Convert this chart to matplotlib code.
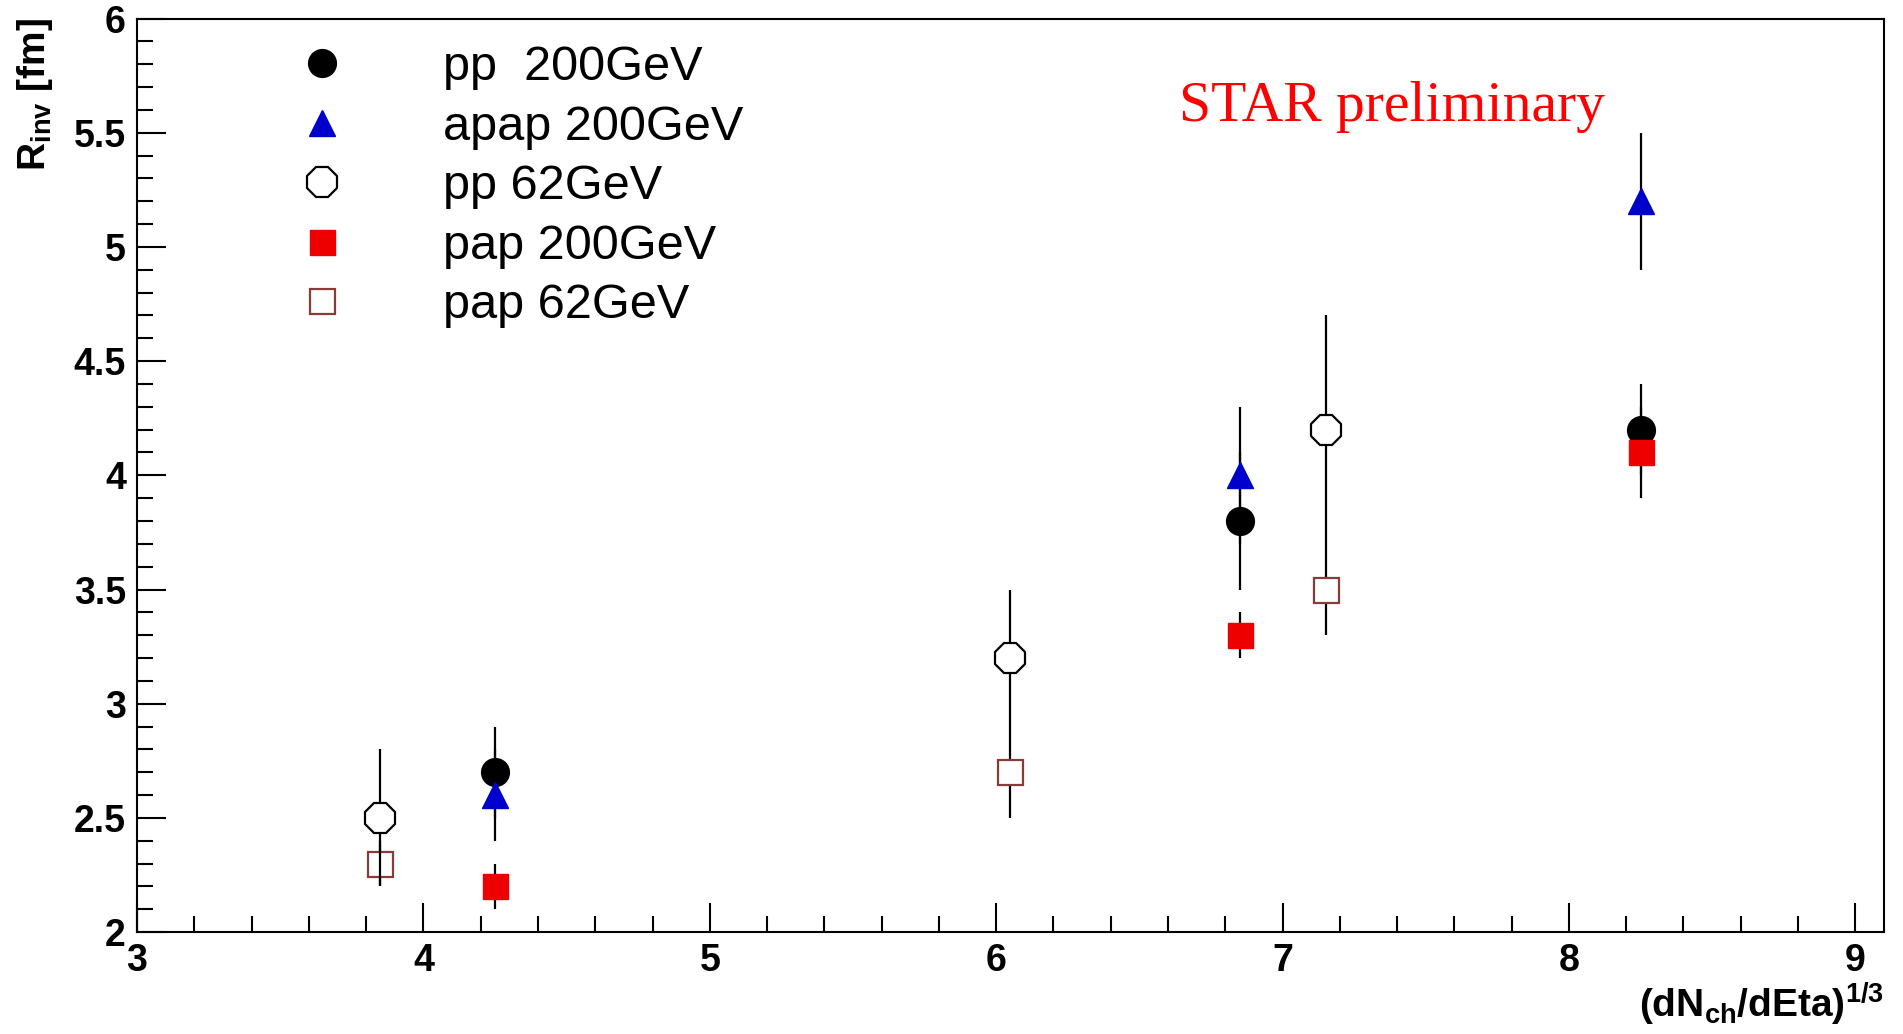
import numpy as np
import matplotlib
matplotlib.use('Agg')
import matplotlib.pyplot as plt
from matplotlib.ticker import MultipleLocator, FormatStrFormatter

plt.rcParams['font.family'] = ['Liberation Sans', 'DejaVu Sans']
plt.rcParams['mathtext.fontset'] = 'custom'
plt.rcParams['mathtext.rm'] = 'Liberation Sans'
plt.rcParams['mathtext.bf'] = 'Liberation Sans:bold'
plt.rcParams['mathtext.it'] = 'Liberation Sans:italic'

# (dNch/dEta)^(1/3) positions
x_200 = [4.25, 6.85, 8.25]
x_62 = [3.85, 6.05, 7.15]

# R_inv values [fm] and errors
pp200 = [2.7, 3.8, 4.2]
pp200_err = [0.2, 0.3, 0.2]
apap200 = [2.6, 4.0, 5.2]
apap200_err = [0.2, 0.3, 0.3]
pp62 = [2.5, 3.2, 4.2]
pp62_err = [0.3, 0.3, 0.5]
pap200 = [2.2, 3.3, 4.1]
pap200_err = [0.1, 0.1, 0.2]
pap62 = [2.3, 2.7, 3.5]
pap62_err = [0.1, 0.2, 0.2]

labels = ['pp  200GeV', 'apap 200GeV', 'pp 62GeV', 'pap 200GeV', 'pap 62GeV']

fig = plt.figure(figsize=(19.03, 10.34), dpi=100)
ax = fig.add_axes([0.072, 0.0986, 0.918, 0.8834])

eb = dict(ecolor='black', elinewidth=1.6, capsize=0, linestyle='none')
h1 = ax.errorbar(x_200, pp200, yerr=pp200_err, marker='o', ms=20, mfc='black', mec='black', zorder=3, **eb)
h2 = ax.errorbar(x_200, apap200, yerr=apap200_err, marker='^', ms=19, mfc='#0000cc', mec='#0000cc', zorder=4, **eb)
h3 = ax.errorbar(x_62, pp62, yerr=pp62_err, marker='8', ms=24, mfc='white', mec='black', mew=1.6, zorder=5, **eb)
h4 = ax.errorbar(x_200, pap200, yerr=pap200_err, marker='s', ms=18, mfc='#ee0000', mec='#ee0000', zorder=6, **eb)
h5 = ax.errorbar(x_62, pap62, yerr=pap62_err, marker='s', ms=18, mfc='white', mec='#8b3a3a', mew=1.6, zorder=2, **eb)

ax.set_xlim(3, 9.1)
ax.set_ylim(2, 6)
ax.xaxis.set_major_locator(MultipleLocator(1))
ax.xaxis.set_minor_locator(MultipleLocator(0.2))
ax.yaxis.set_major_locator(MultipleLocator(0.5))
ax.yaxis.set_minor_locator(MultipleLocator(0.1))
ax.yaxis.set_major_formatter(FormatStrFormatter('%g'))
ax.tick_params(which='both', direction='in', top=False, right=False, width=1.5, labelsize=27)
ax.tick_params(which='major', length=21, pad=8)
ax.tick_params(which='minor', length=11.5)
for lab in ax.get_xticklabels() + ax.get_yticklabels():
    lab.set_fontweight('bold')
for s in ax.spines.values():
    s.set_linewidth(1.5)

ax.set_ylabel(r'$\mathbf{R_{inv}}$ [fm]', fontsize=28, fontweight='bold', loc='top')
ax.yaxis.set_label_coords(-0.047, 1.0)
ax.set_xlabel(r'$\mathbf{(dN_{ch}/dEta)^{1/3}}$', fontsize=28, fontweight='bold', loc='right')
ax.xaxis.set_label_coords(1.0, -0.053)

ax.text(6.64, 5.55, 'STAR preliminary', color='red', fontsize=41.5,
        family='Liberation Serif', va='baseline', ha='left')

ax.legend([h1[0], h2[0], h3[0], h4[0], h5[0]], labels, loc='upper left',
          bbox_to_anchor=(298 / 1903, 1 - 45 / 1034), bbox_transform=fig.transFigure,
          frameon=False, fontsize=35, handlelength=1.0, handletextpad=1.98,
          labelspacing=0.3, borderpad=0, borderaxespad=0)

fig.savefig('out.png', dpi=100)
